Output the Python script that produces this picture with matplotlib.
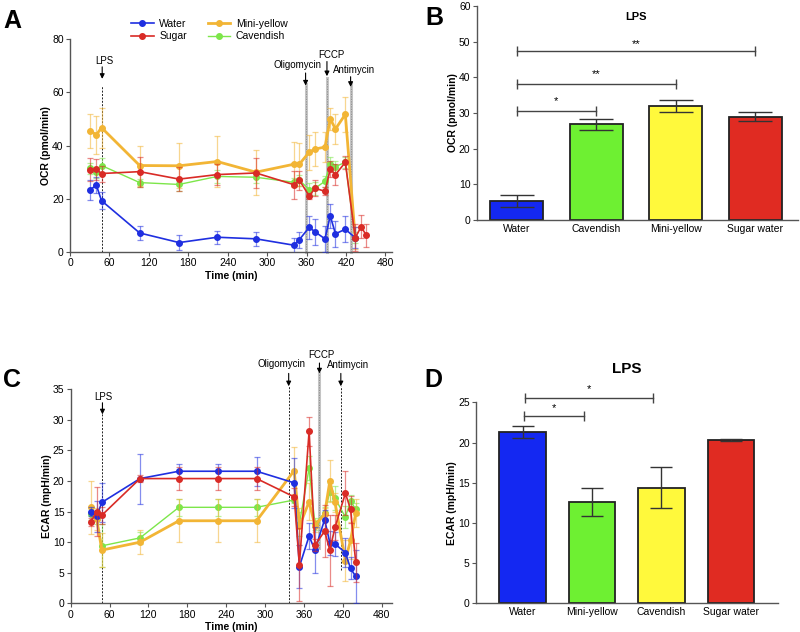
import numpy as np
import matplotlib
matplotlib.use("Agg")
import matplotlib.pyplot as plt
from matplotlib.lines import Line2D

plt.rcParams['font.family'] = ['Liberation Sans', 'DejaVu Sans']
plt.rcParams['font.size'] = 7.5

# -----------------------------
# Data: panel A (OCR time course)
# -----------------------------
t_ocr = [31, 40, 48, 106, 166, 224, 283, 341, 349, 364, 373, 388, 396, 404, 419, 434, 443, 451]
nan = np.nan
ocr_water = [23.4, 25.2, 19.3, 7.2, 3.6, 5.6, 5.0, 2.6, 4.7, 9.3, 7.6, 5.0, 13.6, 6.9, 8.6, 5.4, nan, nan]
ocr_water_err = [3.8, 3.0, 3.2, 2.6, 2.9, 2.4, 2.5, 2.8, 3.0, 4.3, 4.9, 5.0, 4.5, 4.8, 4.8, 4.0, nan, nan]
ocr_sugar = [30.9, 31.1, 29.5, 30.2, 27.4, 29.1, 29.7, 25.3, 27.0, 21.1, 24.0, 22.8, 31.1, 29.1, 33.7, 5.4, 9.5, 6.3]
ocr_sugar_err = [4.3, 4.0, 3.0, 5.6, 4.5, 4.0, 5.5, 5.3, 3.5, 1.0, 3.0, 1.5, 3.0, 4.0, 2.5, 5.0, 4.3, 4.3]
ocr_yellow = [45.5, 44.0, 46.7, 32.5, 32.4, 34.0, 30.0, 33.0, 33.0, 37.5, 38.7, 39.4, 50.0, 46.2, 51.7, 5.3, nan, nan]
ocr_yellow_err = [6.5, 7.0, 7.5, 7.5, 8.5, 9.5, 8.5, 8.5, 8.0, 6.5, 6.5, 5.5, 4.0, 5.5, 6.5, 4.0, nan, nan]
ocr_cav = [31.5, 30.0, 32.5, 26.1, 25.4, 28.4, 28.1, 26.2, 27.0, 23.5, 24.0, 26.6, 33.1, 32.1, 33.7, 5.4, nan, nan]
ocr_cav_err = [2.0, 2.0, 3.0, 1.5, 2.5, 2.5, 2.0, 1.5, 2.0, 2.5, 2.5, 2.0, 2.5, 2.0, 2.0, 2.0, nan, nan]

# -----------------------------
# Data: panel C (ECAR time course)
# -----------------------------
t_ecar = [31, 40, 48, 107, 167, 227, 287, 345, 353, 368, 377, 392, 400, 408, 424, 432, 440]
ecar_water = [15.0, 14.2, 16.5, 20.4, 21.6, 21.6, 21.6, 19.7, 6.0, 11.0, 8.7, 13.7, 9.9, 9.7, 8.3, 5.7, 4.4]
ecar_water_err = [0.8, 2.5, 3.2, 4.1, 1.2, 1.2, 2.4, 4.1, 3.5, 2.1, 3.7, 1.5, 2.0, 2.0, 2.3, 1.8, 4.4]
ecar_sugar = [13.3, 15.0, 14.4, 20.4, 20.4, 20.4, 20.4, 17.4, 6.3, 28.1, 9.5, 11.8, 8.7, 12.4, 18.0, 15.4, 6.7]
ecar_sugar_err = [0.7, 4.0, 1.4, 0.6, 1.9, 1.9, 1.9, 1.5, 6.0, 2.3, 1.0, 4.3, 5.8, 2.0, 3.6, 2.2, 3.2]
ecar_yellow = [15.7, 13.8, 8.7, 10.0, 13.5, 13.5, 13.5, 21.7, 12.6, 16.6, 12.7, 14.6, 20.0, 16.5, 7.0, 10.3, 14.7]
ecar_yellow_err = [4.3, 1.8, 2.8, 2.0, 3.5, 3.5, 3.5, 3.9, 3.0, 3.0, 1.0, 1.0, 3.5, 1.5, 3.4, 3.0, 2.3]
ecar_cav = [14.6, 14.0, 9.4, 10.7, 15.7, 15.7, 15.7, 16.9, 13.0, 22.1, 13.0, 14.8, 18.2, 17.2, 14.1, 16.7, 15.4]
ecar_cav_err = [1.0, 1.0, 3.5, 1.0, 1.4, 1.4, 1.4, 0.5, 2.0, 2.0, 1.0, 1.0, 1.5, 2.0, 1.8, 1.0, 1.0]

# -----------------------------
# Data: bar panels B and D
# -----------------------------
b_labels = ["Water", "Cavendish", "Mini-yellow", "Sugar water"]
b_values = [5.3, 26.8, 32.0, 29.0]
b_errors = [1.6, 1.6, 1.7, 1.3]
d_labels = ["Water", "Mini-yellow", "Cavendish", "Sugar water"]
d_values = [21.3, 12.6, 14.4, 20.3]
d_errors = [0.7, 1.8, 2.5, 0.15]

C_BLUE = "#1f2fe0"
C_RED = "#d92b26"
C_YEL = "#f2b535"
C_GRN = "#7de64a"
# bar fill colours go by position (blue, green, yellow, red) in both bar panels
BAR_COLS = ["#1428f2", "#6ef032", "#fff93c", "#e02b22"]


def style_axes(ax):
    for s in ("top", "right"):
        ax.spines[s].set_visible(False)
    for s in ("left", "bottom"):
        ax.spines[s].set_color("#555555")
        ax.spines[s].set_linewidth(1.0)
    ax.tick_params(direction="out", length=3, width=0.8, color="#555555", labelsize=7.5, pad=1.5)


def draw_series(ax, t, y, err, color, lw, z):
    ax.errorbar(t, y, yerr=err, fmt="none", ecolor=color, alpha=0.55, elinewidth=0.9,
                capsize=2.5, capthick=0.9, zorder=z)
    ax.plot(t, y, color=color, lw=lw, marker="o", ms=4, zorder=z + 0.5)


def vline(ax, t, y0, y1, gray=False):
    if gray:
        ax.plot([t, t], [y0, y1], color="#c4c4c4", lw=2.2, zorder=1, clip_on=False)
        ax.plot([t, t], [y0, y1], color="#8a8a8a", lw=0.6, ls=(0, (1.5, 1.5)), zorder=1, clip_on=False)
    else:
        ax.plot([t, t], [y0, y1], color="#222222", lw=0.7, ls=(0, (2, 1.5)), zorder=1, clip_on=False)


def arrow(ax, t, y_from, y_to):
    ax.annotate("", xy=(t, y_to), xytext=(t, y_from), annotation_clip=False,
                arrowprops=dict(arrowstyle="-|>", color="k", lw=0.8, mutation_scale=7,
                                shrinkA=0, shrinkB=0))


def bracket(ax, x1, x2, y, stars, star_y, lw=1.0):
    ax.plot([x1, x2], [y, y], color="#444444", lw=lw, marker="|", ms=7, mew=lw, clip_on=False)
    ax.text((x1 + x2) / 2, star_y, stars, ha="center", va="center", fontsize=8, clip_on=False)


fig = plt.figure(figsize=(8, 6.32), dpi=100)

# ---------------- Panel A ----------------
axA = fig.add_axes([0.0875, 0.601, 0.4025, 0.3375])
style_axes(axA)
vline(axA, 49, 0, 62.5)
vline(axA, 358.5, 0, 63, gray=True)
vline(axA, 391, 0, 65.5, gray=True)
vline(axA, 427, 0, 63, gray=True)
draw_series(axA, t_ocr, ocr_cav, ocr_cav_err, C_GRN, 1.0, 2)
draw_series(axA, t_ocr, ocr_yellow, ocr_yellow_err, C_YEL, 2.0, 3)
draw_series(axA, t_ocr, ocr_water, ocr_water_err, C_BLUE, 1.2, 4)
draw_series(axA, t_ocr, ocr_sugar, ocr_sugar_err, C_RED, 1.2, 5)
axA.set_xlim(0, 490)
axA.set_ylim(0, 80)
axA.set_xticks(range(0, 481, 60))
axA.set_yticks(range(0, 81, 20))
axA.set_xlabel("Time (min)", fontweight="bold", labelpad=2)
axA.set_ylabel("OCR (pmol/min)", fontweight="bold", labelpad=0.5)
arrow(axA, 49, 69.5, 65)
axA.text(52, 71.8, "LPS", ha="center", va="center", fontsize=7)
arrow(axA, 358.5, 67.2, 62.5)
axA.text(346, 70.2, "Oligomycin", ha="center", va="center", fontsize=7)
arrow(axA, 391, 71.5, 66)
axA.text(398, 73.8, "FCCP", ha="center", va="center", fontsize=7)
arrow(axA, 427, 65.8, 62)
axA.text(433, 68.5, "Antimycin", ha="center", va="center", fontsize=7)

handles = [Line2D([], [], color=C_BLUE, marker="o", ms=4, lw=1.2),
           Line2D([], [], color=C_RED, marker="o", ms=4, lw=1.2),
           Line2D([], [], color=C_YEL, marker="o", ms=4, lw=2.0),
           Line2D([], [], color=C_GRN, marker="o", ms=4, lw=1.0)]
fig.legend(handles, ["Water", "Sugar", "Mini-yellow", "Cavendish"], ncol=2,
           loc="upper left", bbox_to_anchor=(0.152, 0.985), frameon=False, fontsize=7.5,
           handlelength=2.2, handletextpad=0.5, columnspacing=2.0, labelspacing=0.25)

# ---------------- Panel B ----------------
axB = fig.add_axes([0.596, 0.652, 0.401, 0.3386])
style_axes(axB)
xb = np.arange(len(b_labels))
axB.bar(xb, b_values, width=0.67, color=BAR_COLS,
        edgecolor="#222222", linewidth=1.3, zorder=2)
axB.errorbar(xb, b_values, yerr=b_errors, fmt="none", ecolor="#333333", elinewidth=1.0,
             capsize=12, capthick=1.0, zorder=3)
axB.set_xlim(-0.5, 3.53)
axB.set_ylim(0, 60)
axB.set_yticks(range(0, 61, 10))
axB.set_xticks(xb)
axB.set_xticklabels(b_labels)
axB.tick_params(axis="x", length=0, pad=3)
axB.set_ylabel("OCR (pmol/min)", fontweight="bold", labelpad=0.5)
axB.text(1.5, 57, "LPS", ha="center", va="center", fontweight="bold", fontsize=8)
bracket(axB, 0, 1, 30.6, "*", 33.2)
bracket(axB, 0, 2, 38.0, "**", 41.0)
bracket(axB, 0, 3, 47.4, "**", 49.4)

# ---------------- Panel C ----------------
axC = fig.add_axes([0.0884, 0.0454, 0.4016, 0.3386])
style_axes(axC)
vline(axC, 49, 0, 31.5)
vline(axC, 336.5, 0, 35.6)
vline(axC, 384, 9, 37.6, gray=True)
vline(axC, 417, 5.5, 35.6)
draw_series(axC, t_ecar, ecar_cav, ecar_cav_err, C_GRN, 1.0, 2)
draw_series(axC, t_ecar, ecar_yellow, ecar_yellow_err, C_YEL, 2.0, 3)
draw_series(axC, t_ecar, ecar_water, ecar_water_err, C_BLUE, 1.2, 4)
draw_series(axC, t_ecar, ecar_sugar, ecar_sugar_err, C_RED, 1.2, 5)
axC.set_xlim(0, 496)
axC.set_ylim(0, 35)
axC.set_xticks(range(0, 481, 60))
axC.set_yticks(range(0, 36, 5))
axC.set_xlabel("Time (min)", fontweight="bold", labelpad=2)
axC.set_ylabel("ECAR (mpH/min)", fontweight="bold", labelpad=0.5)
arrow(axC, 49, 32.8, 30.9)
axC.text(51, 33.8, "LPS", ha="center", va="center", fontsize=7)
arrow(axC, 336.5, 37.6, 35.5)
axC.text(325, 39.1, "Oligomycin", ha="center", va="center", fontsize=7)
arrow(axC, 384, 39.3, 37.6)
axC.text(387, 40.6, "FCCP", ha="center", va="center", fontsize=7)
arrow(axC, 417, 37.6, 35.5)
axC.text(428, 38.9, "Antimycin", ha="center", va="center", fontsize=7)

# ---------------- Panel D ----------------
axD = fig.add_axes([0.595, 0.0454, 0.3775, 0.318])
style_axes(axD)
xd = np.arange(len(d_labels))
axD.bar(xd, d_values, width=0.67, color=BAR_COLS,
        edgecolor="#222222", linewidth=1.3, zorder=2)
axD.errorbar(xd, d_values, yerr=d_errors, fmt="none", ecolor="#333333", elinewidth=1.0,
             capsize=8, capthick=1.0, zorder=3)
axD.set_xlim(-0.67, 3.68)
axD.set_ylim(0, 25)
axD.set_yticks(range(0, 26, 5))
axD.set_xticks(xd)
axD.set_xticklabels(d_labels)
axD.tick_params(axis="x", length=0, pad=3)
axD.set_ylabel("ECAR (mpH/min)", fontweight="bold", labelpad=0.5)
axD.text(1.5, 29.2, "LPS", ha="center", va="center", fontweight="bold", fontsize=11, clip_on=False)
bracket(axD, 0.02, 0.88, 23.3, "*", 24.3)
bracket(axD, 0.04, 1.88, 25.6, "*", 26.7)

# Panel letters
for letter, x, y in [("A", 0.004, 0.985), ("B", 0.532, 0.99), ("C", 0.004, 0.418), ("D", 0.531, 0.418)]:
    fig.text(x, y, letter, fontsize=18, fontweight="bold", va="top", ha="left")

fig.savefig("out.png", dpi=100)
